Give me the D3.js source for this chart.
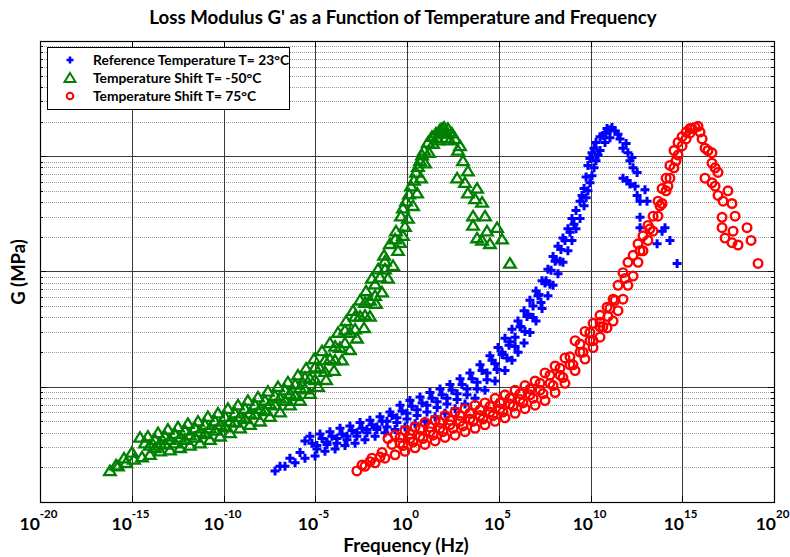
<!DOCTYPE html>
<html lang="en">
<head>
<meta charset="UTF-8">
<title>Loss Modulus G' as a Function of Temperature and Frequency</title>
<script src="https://d3js.org/d3.v7.min.js"></script>
<style>
  body { margin: 0; background: #fff; }
  svg { display: block; font-family: Lato, "Open Sans", sans-serif; }
  .grid-major { stroke: #3a3a3a; stroke-width: 1; shape-rendering: crispEdges; }
  .grid-minor { stroke: #9a9a9a; stroke-width: 1; stroke-dasharray: 1,1; shape-rendering: crispEdges; }
</style>
</head>
<body>
<div id="chart"></div>
<script>
// points are [log10 frequency (Hz), log10 G (MPa)]
const seriesNames = ["Reference Temperature T= 23°C", "Temperature Shift T= -50°C", "Temperature Shift T= 75°C"];
const seriesColors = ["#0000ff", "#008000", "#ff0000"];

const ref23 = [
  [-7.19,-0.73],[-6.65,-0.69],[-6.10,-0.66],[-5.56,-0.62],[-5.01,-0.60],[-4.47,-0.56],[-3.92,-0.54],[-3.38,-0.51],
  [-2.83,-0.49],[-2.29,-0.46],[-1.74,-0.43],[-1.20,-0.40],[-0.65,-0.37],[-0.11,-0.35],[0.44,-0.32],[0.98,-0.30],
  [1.53,-0.26],[2.07,-0.23],[2.62,-0.19],[3.16,-0.15],[3.71,-0.10],[4.25,-0.03],[4.80,0.05],[5.34,0.14],
  [5.72,0.23],[6.05,0.30],[6.38,0.38],[6.70,0.47],[7.03,0.57],[7.36,0.68],[7.68,0.79],[7.96,0.88],
  [8.23,0.98],[8.50,1.08],[8.77,1.18],[8.99,1.27],[9.21,1.37],[9.43,1.46],[9.65,1.57],[9.86,1.70],
  [10.08,1.83],[10.30,1.96],[10.52,2.05],[10.79,2.12],[11.06,2.16],
  [-6.92,-0.69],[-6.38,-0.62],[-5.83,-0.57],[-5.56,-0.47],[-5.29,-0.43],[-4.74,-0.41],[-4.20,-0.39],[-3.65,-0.36],
  [-3.11,-0.34],[-2.56,-0.31],[-2.02,-0.29],[-1.47,-0.26],[-0.93,-0.22],[-0.38,-0.16],[0.16,-0.12],[0.71,-0.09],
  [1.25,-0.05],[1.80,-0.02],[2.34,0.02],[2.89,0.07],[3.43,0.12],[3.98,0.19],[4.52,0.27],[4.96,0.34],
  [5.34,0.42],[5.72,0.50],[6.05,0.57],[6.38,0.66],[6.70,0.75],[7.03,0.83],[7.36,0.92],[7.68,1.02],
  [7.96,1.13],[8.23,1.22],[8.50,1.29],[8.77,1.37],[8.99,1.46],[9.21,1.53],[9.43,1.61],[9.65,1.72],
  [9.86,1.92],[10.08,2.03],[10.30,2.12],[10.52,2.17],[10.79,2.20],[11.06,2.23],[11.34,2.22],
  [-4.91,-0.51],[-4.36,-0.48],[-3.82,-0.45],[-3.27,-0.43],[-2.73,-0.40],[-2.18,-0.37],[-1.64,-0.35],[-1.09,-0.30],
  [-0.55,-0.27],[0.00,-0.23],[0.55,-0.20],[1.09,-0.16],[1.64,-0.13],[2.18,-0.10],[2.73,-0.06],[3.27,-0.02],
  [3.82,0.04],[4.36,0.12],[4.80,0.20],[5.18,0.28],[5.56,0.36],[5.89,0.43],[6.21,0.52],[6.54,0.61],
  [6.87,0.70],[7.19,0.80],[7.52,0.90],[7.85,1.01],[8.12,1.10],[8.39,1.19],
  [-5.18,-0.49],[-4.63,-0.45],[-4.09,-0.43],[-3.54,-0.41],[-3.00,-0.38],[-2.45,-0.36],[-1.91,-0.33],[-1.36,-0.30],
  [-0.82,-0.25],[-0.27,-0.21],[0.27,-0.17],[0.82,-0.14],[1.36,-0.10],[1.91,-0.07],[2.45,-0.03],[3.00,0.02],
  [3.54,0.07],[4.09,0.14],[4.63,0.23],[5.18,0.30],[5.61,0.39],[6.16,0.52],[6.59,0.63],[7.14,0.79],
  [7.58,0.92],[8.07,1.09],[8.61,1.27],
  [-4.91,-0.54],[-4.36,-0.50],[-3.82,-0.49],[-3.27,-0.46],[-2.73,-0.43],[-2.18,-0.40],[-1.64,-0.37],[-1.09,-0.35],
  [-0.55,-0.31],[0.00,-0.28],[0.55,-0.25],[1.09,-0.22],[1.64,-0.18],[2.18,-0.15],[2.73,-0.11],[3.27,-0.07],
  [3.82,-0.02],[4.36,0.06],[4.91,0.15],[5.45,0.25],[5.89,0.35],[6.43,0.48],[6.87,0.60],[7.30,0.73],
  [7.79,0.89],[8.34,1.09],
  [9.76,1.82],[9.76,1.64],[9.97,1.77],[10.19,1.90],[10.41,2.01],[9.97,1.98],[10.19,2.07],[9.54,1.66],
  [9.10,1.41],[8.88,1.34],
  [10.68,2.18],[10.90,2.24],[11.17,2.25],[11.50,2.19],[11.61,2.15],[11.77,2.07],[11.94,2.11],[12.04,2.03],
  [12.15,1.96],[12.26,1.99],[12.32,1.90],[12.54,1.86],[11.77,1.81],[11.99,1.79],[12.15,1.76],[12.43,1.74],
  [12.97,1.71],[12.54,1.66],[12.70,1.61],[13.08,1.61],[12.70,1.47],[12.70,1.38],[13.90,1.35],[14.06,1.38],
  [13.63,1.24],[14.33,1.27],[14.72,1.07]
];

const shiftMinus50 = [
  [-16.19,-0.73],[-15.75,-0.69],[-15.31,-0.66],[-14.88,-0.63],[-14.44,-0.61],[-14.01,-0.59],[-13.46,-0.56],[-12.92,-0.55],
  [-12.37,-0.53],[-11.83,-0.51],[-11.28,-0.49],[-10.74,-0.46],[-10.19,-0.43],[-9.65,-0.40],[-9.10,-0.36],[-8.56,-0.33],
  [-8.01,-0.30],[-7.47,-0.26],[-6.92,-0.22],[-6.38,-0.16],[-5.83,-0.12],[-5.29,-0.06],[-4.85,0.00],[-4.41,0.06],
  [-3.98,0.14],[-3.54,0.23],[-3.11,0.32],[-2.73,0.42],[-2.34,0.51],[-2.02,0.61],[-1.69,0.72],[-1.36,0.82],
  [-1.04,0.94],[-0.76,1.05],[-0.49,1.18],[-0.22,1.31],[0.05,1.46],[0.33,1.57],[0.55,1.68],[0.76,1.81],
  [0.98,1.94],[1.20,2.03],[1.42,2.11],[1.64,2.16],[1.85,2.20],
  [-15.86,-0.68],[-15.42,-0.62],[-14.99,-0.57],[-14.55,-0.44],[-14.12,-0.43],[-13.57,-0.40],[-13.03,-0.37],[-12.48,-0.35],
  [-11.94,-0.32],[-11.39,-0.30],[-10.85,-0.26],[-10.30,-0.23],[-9.76,-0.19],[-9.21,-0.16],[-8.67,-0.12],[-8.12,-0.09],
  [-7.58,-0.04],[-7.03,0.00],[-6.49,0.04],[-5.94,0.10],[-5.50,0.16],[-5.07,0.24],[-4.63,0.31],[-4.20,0.38],
  [-3.76,0.47],[-3.32,0.57],[-2.94,0.66],[-2.56,0.75],[-2.23,0.83],[-1.91,0.94],[-1.58,1.02],[-1.25,1.14],
  [-0.93,1.24],[-0.60,1.35],[-0.33,1.48],[-0.05,1.61],[0.22,1.74],[0.49,1.86],[0.71,1.96],[0.93,2.05],
  [1.14,2.12],[1.36,2.17],[1.58,2.20],[1.80,2.23],[2.02,2.25],[2.23,2.24],
  [-14.01,-0.51],[-13.46,-0.49],[-12.92,-0.46],[-12.37,-0.44],[-11.83,-0.42],[-11.28,-0.39],[-10.74,-0.36],[-10.19,-0.33],
  [-9.65,-0.30],[-9.10,-0.26],[-8.56,-0.23],[-8.01,-0.19],[-7.47,-0.15],[-6.92,-0.10],[-6.38,-0.06],[-5.83,-0.01],
  [-5.29,0.07],[-4.74,0.16],[-4.20,0.24],[-3.65,0.34],[-3.11,0.47],[-2.56,0.61],[-2.02,0.75],[-1.47,0.95],
  [-14.28,-0.49],[-13.73,-0.46],[-13.19,-0.43],[-12.64,-0.41],[-12.10,-0.38],[-11.55,-0.36],[-11.01,-0.33],[-10.46,-0.30],
  [-9.92,-0.26],[-9.37,-0.23],[-8.83,-0.19],[-8.28,-0.16],[-7.74,-0.12],[-7.19,-0.08],[-6.65,-0.03],[-6.10,0.02],
  [-5.56,0.08],[-5.01,0.17],[-4.47,0.23],[-3.92,0.35],[-3.38,0.49],[-2.83,0.61],[-2.29,0.73],[-1.74,0.89],
  [-1.20,1.09],[-0.65,1.28],
  [-13.73,-0.53],[-13.19,-0.50],[-12.64,-0.49],[-12.10,-0.46],[-11.55,-0.44],[-11.01,-0.41],[-10.46,-0.38],[-9.92,-0.35],
  [-9.37,-0.31],[-8.83,-0.28],[-8.28,-0.24],[-7.74,-0.21],[-7.19,-0.16],[-6.65,-0.12],[-6.10,-0.08],[-5.56,-0.02],
  [-5.01,0.06],[-4.47,0.13],[-3.92,0.23],[-3.38,0.38],[-2.83,0.50],[-2.29,0.62],[-1.74,0.79],[-1.20,1.02],
  [-0.22,1.55],[0.11,1.67],[0.38,1.79],[0.60,1.91],[0.82,2.01],[-0.11,1.39],[-0.38,1.25],
  [1.69,2.14],[2.13,2.16],[1.91,2.24],
  [2.18,2.20],[2.45,2.20],[2.34,2.14],[2.62,2.15],[2.78,2.05],[2.89,2.09],[3.05,1.96],[3.32,1.87],
  [2.73,1.81],[3.16,1.77],[3.32,1.68],[3.82,1.72],[3.71,1.63],[4.09,1.60],[3.60,1.48],[4.25,1.48],
  [3.60,1.40],[4.36,1.35],[4.91,1.38],[3.82,1.29],[4.09,1.27],[4.52,1.24],[5.18,1.28],[5.61,1.07]
];

const shift75 = [
  [-2.73,-0.73],[-2.29,-0.69],[-1.74,-0.66],[-1.20,-0.62],[-0.65,-0.59],[-0.11,-0.56],[0.44,-0.53],[0.98,-0.50],
  [1.53,-0.47],[2.07,-0.44],[2.62,-0.42],[3.16,-0.39],[3.71,-0.36],[4.25,-0.33],[4.80,-0.30],[5.34,-0.27],
  [5.89,-0.23],[6.43,-0.19],[6.98,-0.16],[7.52,-0.12],[8.07,-0.05],[8.61,0.03],[9.16,0.14],[9.70,0.24],
  [10.14,0.34],[10.52,0.43],[10.90,0.51],[11.23,0.57],[11.50,0.66],[11.77,0.76],[12.04,0.88],[12.32,0.96],
  [12.59,1.08],[12.86,1.18],[13.13,1.27],[13.41,1.35],[13.68,1.48],[13.90,1.59],[14.12,1.70],[14.33,1.81],
  [14.55,1.90],[14.77,2.01],[14.99,2.09],[15.21,2.15],[15.42,2.20],
  [-2.45,-0.68],[-1.91,-0.62],[-1.36,-0.57],[-1.04,-0.45],[-0.65,-0.42],[-0.11,-0.38],[0.44,-0.35],[0.98,-0.31],
  [1.53,-0.29],[2.07,-0.25],[2.62,-0.22],[3.16,-0.19],[3.71,-0.16],[4.25,-0.14],[4.80,-0.10],[5.34,-0.07],
  [5.89,-0.03],[6.43,0.01],[6.98,0.05],[7.52,0.12],[8.07,0.18],[8.61,0.25],[9.16,0.40],[9.70,0.48],
  [10.14,0.55],[10.52,0.62],[10.90,0.69],[11.23,0.76],[11.50,0.88],[11.77,0.99],[12.04,1.08],[12.32,1.14],
  [12.59,1.24],[12.86,1.31],[13.13,1.40],[13.41,1.48],[13.68,1.61],[13.90,1.72],[14.12,1.81],[14.33,1.92],
  [14.55,2.05],[14.77,2.12],[14.99,2.17],[15.21,2.21],[15.42,2.24],[15.70,2.25],
  [-0.38,-0.49],[0.16,-0.45],[0.71,-0.43],[1.25,-0.39],[1.80,-0.36],[2.34,-0.33],[2.89,-0.30],[3.43,-0.28],
  [3.98,-0.25],[4.52,-0.22],[5.07,-0.19],[5.61,-0.15],[6.16,-0.11],[6.70,-0.07],[7.25,-0.03],[7.79,0.03],
  [8.34,0.10],[8.88,0.19],[9.43,0.30],[9.97,0.40],[10.52,0.52],[10.95,0.61],
  [-0.38,-0.44],[0.16,-0.41],[0.71,-0.37],[1.25,-0.35],[1.80,-0.31],[2.34,-0.29],[2.89,-0.25],[3.43,-0.23],
  [3.98,-0.20],[4.52,-0.17],[5.07,-0.14],[5.61,-0.10],[6.16,-0.06],[6.70,-0.02],[7.25,0.03],[7.79,0.10],
  [8.34,0.16],[8.88,0.26],[9.43,0.37],[9.97,0.47],[10.52,0.56],[11.06,0.68],
  [-0.22,-0.51],[0.33,-0.48],[0.87,-0.45],[1.42,-0.42],[1.96,-0.39],[2.51,-0.36],[3.05,-0.34],[3.60,-0.30],
  [4.14,-0.28],[4.69,-0.25],[5.23,-0.22],[5.78,-0.17],[6.32,-0.14],[6.87,-0.10],[7.41,-0.06],[7.96,0.01],
  [8.50,0.08],[9.05,0.19],[9.59,0.30],[10.14,0.40],[10.68,0.52],
  [-2.02,-0.65],[-1.47,-0.61],[-0.82,-0.50],
  [11.34,0.75],[11.88,0.94],[12.70,1.18],[13.24,1.37],[13.79,1.57],[14.22,1.74],[14.66,1.96],
  [15.53,2.24],[15.86,2.26],[15.97,2.21],[16.08,2.15],[16.24,2.07],[16.40,2.05],[16.62,2.03],[16.62,1.94],
  [16.79,1.90],[16.95,1.86],[16.24,1.81],[16.62,1.77],[16.79,1.74],[16.95,1.66],[17.49,1.70],[17.22,1.61],
  [17.71,1.59],[17.17,1.47],[17.88,1.48],[17.17,1.38],[17.77,1.35],[18.53,1.38],[17.33,1.29],[17.71,1.25],
  [18.04,1.23],[18.75,1.27],[19.13,1.07]
];

const xTickExps = [-20, -15, -10, -5, 0, 5, 10, 15, 20];

const width = 790, height = 557;
const margin = { top: 41, right: 16, bottom: 55, left: 40 };

const svg = d3.select("#chart").append("svg")
  .attr("width", width)
  .attr("height", height);

const x = d3.scaleLog().domain([1e-20, 1e20]).range([margin.left, width - margin.right]);
const y = d3.scaleLog().domain([0.1, 1000]).range([height - margin.bottom, margin.top]);

const x0 = margin.left, x1 = width - margin.right;
const y0 = height - margin.bottom, y1 = margin.top;
const px = d => x(Math.pow(10, d[0]));
const py = d => y(Math.pow(10, d[1]));

// grid
const yTicks = y.ticks();
const isDecade = v => Math.abs(Math.log10(v) - Math.round(Math.log10(v))) < 1e-6;
const grid = svg.append("g");
grid.selectAll(".grid-minor")
  .data(yTicks.filter(v => !isDecade(v)))
  .join("line")
  .attr("class", "grid-minor")
  .attr("x1", x0).attr("x2", x1)
  .attr("y1", d => Math.round(y(d)) + 0.5).attr("y2", d => Math.round(y(d)) + 0.5);
grid.selectAll(".grid-major.h")
  .data(yTicks.filter(isDecade))
  .join("line")
  .attr("class", "grid-major h")
  .attr("x1", x0).attr("x2", x1)
  .attr("y1", d => Math.round(y(d)) + 0.5).attr("y2", d => Math.round(y(d)) + 0.5);
grid.selectAll(".grid-major.v")
  .data(xTickExps)
  .join("line")
  .attr("class", "grid-major v")
  .attr("y1", y0).attr("y2", y1)
  .attr("x1", d => Math.round(x(Math.pow(10, d))) + 0.5).attr("x2", d => Math.round(x(Math.pow(10, d))) + 0.5);

// small ticks on left and right edges
const edgeTicks = svg.append("g").attr("stroke", "#000").attr("shape-rendering", "crispEdges");
yTicks.forEach(v => {
  const yy = Math.round(y(v)) + 0.5, len = isDecade(v) ? 6 : 3;
  edgeTicks.append("line").attr("x1", x0).attr("x2", x0 + len).attr("y1", yy).attr("y2", yy);
  edgeTicks.append("line").attr("x1", x1 - len).attr("x2", x1).attr("y1", yy).attr("y2", yy);
});

// markers
function drawPlus(g, data, color, s) {
  g.selectAll("path")
    .data(data)
    .join("path")
    .attr("d", `M${-s},0H${s}M0,${-s}V${s}`)
    .attr("transform", d => `translate(${px(d)},${py(d)})`)
    .attr("stroke", color)
    .attr("stroke-width", 3)
    .attr("fill", "none");
}
function drawTri(g, data, color, s) {
  const h = s * 0.9;
  g.selectAll("path")
    .data(data)
    .join("path")
    .attr("d", `M0,${-h}L${s},${h * 0.8}L${-s},${h * 0.8}Z`)
    .attr("transform", d => `translate(${px(d)},${py(d)})`)
    .attr("stroke", color)
    .attr("stroke-width", 2.3)
    .attr("fill", "none");
}
function drawCircle(g, data, color, r) {
  g.selectAll("circle")
    .data(data)
    .join("circle")
    .attr("cx", px)
    .attr("cy", py)
    .attr("r", r)
    .attr("stroke", color)
    .attr("stroke-width", 2.4)
    .attr("fill", "none");
}

const layer = svg.append("g");
drawPlus(layer.append("g"), ref23, seriesColors[0], 4.5);
drawTri(layer.append("g"), shiftMinus50, seriesColors[1], 5.8);
drawCircle(layer.append("g"), shift75, seriesColors[2], 4.3);

// frame
svg.append("rect")
  .attr("x", x0 + 0.5).attr("y", y1 + 0.5)
  .attr("width", x1 - x0).attr("height", y0 - y1)
  .attr("fill", "none").attr("stroke", "#000").attr("stroke-width", 1.2);

// x tick marks and labels
const xt = svg.append("g");
xTickExps.forEach(e => {
  const xx = Math.round(x(Math.pow(10, e))) + 0.5;
  xt.append("line").attr("x1", xx).attr("x2", xx).attr("y1", y0).attr("y2", y0 - 6).attr("stroke", "#000");
  xt.append("line").attr("x1", xx).attr("x2", xx).attr("y1", y1).attr("y2", y1 + 6).attr("stroke", "#000");
  const t = xt.append("text")
    .attr("x", xx - 2)
    .attr("y", 530)
    .attr("text-anchor", "middle")
    .attr("font-weight", "bold")
    .attr("font-size", 17.5);
  t.append("tspan").text("10");
  t.append("tspan").attr("dy", -12).attr("font-size", 11.5).text(e);
});

// titles
svg.append("text")
  .attr("x", 403).attr("y", 24)
  .attr("text-anchor", "middle")
  .attr("font-weight", "bold")
  .attr("font-size", 18.7)
  .text("Loss Modulus G' as a Function of Temperature and Frequency");

svg.append("text")
  .attr("x", 406).attr("y", 552)
  .attr("text-anchor", "middle")
  .attr("font-weight", "bold")
  .attr("font-size", 18.9)
  .text("Frequency (Hz)");

svg.append("text")
  .attr("transform", "translate(25,272) rotate(-90)")
  .attr("text-anchor", "middle")
  .attr("font-weight", "bold")
  .attr("font-size", 18.4)
  .text("G (MPa)");

// legend
const lg = svg.append("g");
lg.append("rect")
  .attr("x", 47.5).attr("y", 47.5).attr("width", 242).attr("height", 62)
  .attr("fill", "#fff").attr("stroke", "#000");
const rowY = [60, 78, 96];
lg.append("path").attr("d", "M-3.5,0H3.5M0,-3.5V3.5").attr("transform", `translate(70,${rowY[0]})`)
  .attr("stroke", seriesColors[0]).attr("stroke-width", 2.6);
lg.append("path").attr("d", "M0,-5L5.5,4L-5.5,4Z").attr("transform", `translate(70,${rowY[1]})`)
  .attr("stroke", seriesColors[1]).attr("stroke-width", 2).attr("fill", "none");
lg.append("circle").attr("cx", 70).attr("cy", rowY[2]).attr("r", 3.3)
  .attr("stroke", seriesColors[2]).attr("stroke-width", 2).attr("fill", "none");
seriesNames.forEach((n, i) => {
  lg.append("text")
    .attr("x", 93).attr("y", rowY[i] + 4.5)
    .attr("font-weight", "bold")
    .attr("font-size", 13.8)
    .text(n);
});
</script>
</body>
</html>
